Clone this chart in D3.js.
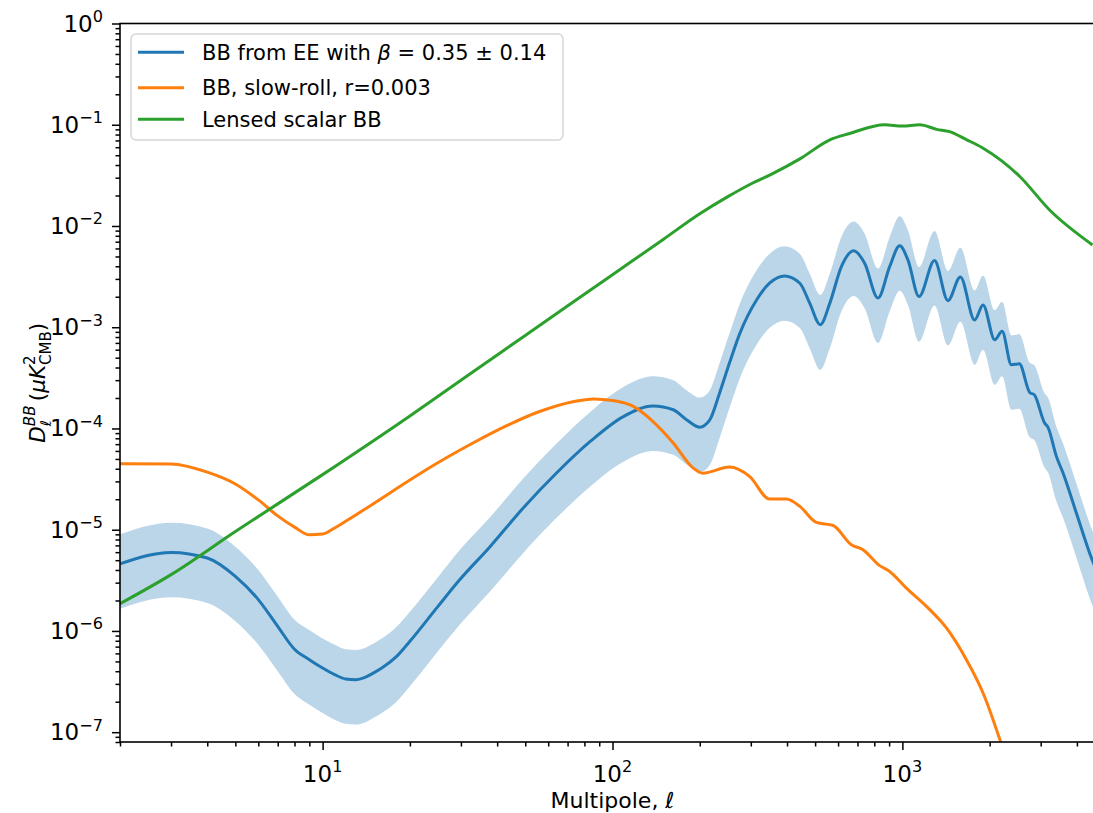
<!DOCTYPE html>
<html>
<head>
<meta charset="utf-8">
<script src="https://cdn.jsdelivr.net/npm/d3@7"></script>
<style>
  body { margin: 0; background: #fff; }
  text { font-family: "DejaVu Sans", sans-serif; fill: #000; }
</style>
</head>
<body>
<svg id="chart" width="1093" height="813"></svg>
<script>
// values (multipole ell, D_ell^BB in uK^2)
var ellBlue = [2, 3, 4, 5, 6, 7, 8, 9, 10, 11, 12, 13, 14, 15, 16, 18, 20, 25, 29.7, 37.8,
  49.2, 64.1, 83.6, 109, 138, 162, 180, 200, 216, 234, 253, 275, 314, 348, 392, 443, 479, 521, 562, 616,
  679, 741, 824, 904, 979, 1045, 1141, 1291, 1436, 1585, 1775, 1898, 2083, 2208, 2377, 2530, 2750, 2852, 3096, 3177,
  3398, 3583, 3983, 4424, 4600];
var bbBlue = [4.6e-6, 5.97e-6, 5.25e-6, 3.46e-6, 2.04e-6, 1.11e-6, 6.6e-7, 5.2e-7, 4.3e-7, 3.7e-7,
  3.36e-7, 3.3e-7, 3.48e-7, 3.85e-7, 4.3e-7, 5.6e-7, 7.9e-7, 1.75e-6, 3.2e-6, 6.8e-6,
  1.64e-5, 3.63e-5, 7.4e-5, 1.31e-4, 1.67e-4, 1.53e-4, 1.22e-4, 1.03e-4, 1.2e-4, 2.23e-4,
  4.4e-4, 8.7e-4, 1.86e-3, 2.72e-3, 3.21e-3, 2.72e-3, 1.73e-3, 1.06e-3, 1.73e-3, 3.97e-3,
  5.68e-3, 4.29e-3, 1.94e-3, 3.97e-3, 6.37e-3, 4.62e-3, 2.01e-3, 4.55e-3, 1.83e-3, 3.13e-3,
  1.18e-3, 1.66e-3, 7.5e-4, 9.1e-4, 4.26e-4, 4.35e-4, 2.27e-4, 2.15e-4, 1.13e-4, 1.03e-4,
  5.3e-5, 3.63e-5, 1.46e-5, 5.9e-6, 4.4e-6];
var bbBlueHi = [9.0e-6, 1.17e-5, 1.03e-5, 6.8e-6, 4.0e-6, 2.18e-6, 1.29e-6, 1.02e-6, 8.4e-7, 7.3e-7,
  6.6e-7, 6.5e-7, 6.8e-7, 7.5e-7, 8.4e-7, 1.10e-6, 1.55e-6, 3.4e-6, 6.3e-6, 1.33e-5,
  3.2e-5, 7.1e-5, 1.45e-4, 2.57e-4, 3.27e-4, 3.0e-4, 2.39e-4, 2.02e-4, 2.35e-4, 4.4e-4,
  8.6e-4, 1.71e-3, 3.65e-3, 5.3e-3, 6.3e-3, 5.3e-3, 3.39e-3, 2.08e-3, 3.39e-3, 7.8e-3,
  1.11e-2, 8.4e-3, 3.8e-3, 7.8e-3, 1.25e-2, 9.1e-3, 3.94e-3, 8.9e-3, 3.59e-3, 6.1e-3,
  2.31e-3, 3.25e-3, 1.47e-3, 1.78e-3, 8.3e-4, 8.5e-4, 4.45e-4, 4.2e-4, 2.21e-4, 2.02e-4,
  1.04e-4, 7.1e-5, 2.86e-5, 1.16e-5, 8.6e-6];
var bbBlueLo = [1.66e-6, 2.15e-6, 1.89e-6, 1.25e-6, 7.3e-7, 4.0e-7, 2.38e-7, 1.87e-7, 1.55e-7, 1.33e-7,
  1.21e-7, 1.19e-7, 1.25e-7, 1.39e-7, 1.55e-7, 2.0e-7, 2.84e-7, 6.3e-7, 1.15e-6, 2.45e-6,
  5.9e-6, 1.31e-5, 2.66e-5, 4.7e-5, 6.0e-5, 5.5e-5, 4.4e-5, 3.7e-5, 4.3e-5, 8.0e-5,
  1.58e-4, 3.13e-4, 6.7e-4, 9.8e-4, 1.16e-3, 9.8e-4, 6.2e-4, 3.8e-4, 6.2e-4, 1.43e-3,
  2.04e-3, 1.54e-3, 7.0e-4, 1.43e-3, 2.29e-3, 1.66e-3, 7.2e-4, 1.64e-3, 6.6e-4, 1.13e-3,
  4.25e-4, 6.0e-4, 2.7e-4, 3.28e-4, 1.53e-4, 1.57e-4, 8.2e-5, 7.7e-5, 4.1e-5, 3.7e-5,
  1.91e-5, 1.31e-5, 5.3e-6, 2.12e-6, 1.58e-6];

var ellSlow = [2, 3, 4, 5, 6, 7, 8, 9, 10, 11, 12, 25.4, 33, 43, 56, 73, 86, 100, 118, 138,
  162, 190, 205, 253, 297, 348, 398, 443, 505, 577, 667, 731, 835, 904, 1032, 1211, 1419, 1663, 1898, 2167, 2300];
var bbSlow = [4.49e-5, 4.45e-5, 3.7e-5, 2.83e-5, 1.97e-5, 1.37e-5, 1.06e-5, 8.9e-6, 9.06e-6, 1.04e-5,
  1.21e-5, 4.72e-5, 7.18e-5, 1.06e-4, 1.47e-4, 1.84e-4, 1.96e-4, 1.89e-4, 1.65e-4, 1.17e-4,
  7.2e-5, 4.06e-5, 3.62e-5, 4.16e-5, 3.36e-5, 2.01e-5, 2.01e-5, 1.70e-5, 1.18e-5, 1.10e-5,
  7.1e-6, 6.35e-6, 4.42e-6, 3.87e-6, 2.65e-6, 1.75e-6, 1.07e-6, 5.2e-7, 2.44e-7, 8.5e-8, 5.0e-8];

var ellLens = [2, 3, 5, 10, 20, 30, 50, 100, 150, 200, 250, 300, 350, 443, 562, 658, 869, 1000, 1148, 1313,
  1455, 1667, 1893, 2536, 3220, 4530];
var bbLens = [1.86e-6, 3.6e-6, 9.6e-6, 3.5e-5, 1.33e-4, 3.0e-4, 8.3e-4, 3.3e-3, 7.4e-3, 1.32e-2,
  1.95e-2, 2.6e-2, 3.2e-2, 4.6e-2, 7.1e-2, 8.2e-2, 1.0e-1, 9.7e-2, 1.0e-1, 9.0e-2,
  8.55e-2, 7.1e-2, 5.9e-2, 3.1e-2, 1.44e-2, 6.5e-3];

var xMajor = [10, 100, 1000];
var yMajor = [1e-7, 1e-6, 1e-5, 1e-4, 1e-3, 1e-2, 1e-1, 1];
var colors = ["#1f77b4", "#ff7f0e", "#2ca02c"];

var svg = d3.select("#chart");

var padL = 120, padR = 1105, padT = 23.5, padB = 742;
var x = d3.scaleLog().domain([2, 5000]).range([padL, padR]);
var y = d3.scaleLog().domain([8e-8, 1]).range([padB, padT]);

var tickFs = 23, labelFs = 22, legendFs = 21;

svg.append("clipPath").attr("id", "clip")
  .append("rect").attr("x", padL).attr("y", padT)
  .attr("width", padR - padL).attr("height", padB - padT);

var plot = svg.append("g").attr("clip-path", "url(#clip)");

var blueRows = ellBlue.map(function(l, i) {
  return { ell: l, v: bbBlue[i], lo: bbBlueLo[i], hi: bbBlueHi[i] };
});
function rows(ells, vals) {
  return ells.map(function(l, i) { return { ell: l, v: vals[i] }; });
}

var area = d3.area()
  .x(function(d) { return x(d.ell); })
  .y0(function(d) { return y(d.lo); })
  .y1(function(d) { return y(d.hi); })
  .curve(d3.curveMonotoneX);

var line = d3.line()
  .x(function(d) { return x(d.ell); })
  .y(function(d) { return y(d.v); })
  .curve(d3.curveMonotoneX);

plot.append("path").datum(blueRows)
  .attr("d", area).attr("fill", colors[0]).attr("fill-opacity", 0.3);

plot.append("path").datum(blueRows)
  .attr("d", line).attr("fill", "none").attr("stroke", colors[0]).attr("stroke-width", 3);
plot.append("path").datum(rows(ellSlow, bbSlow))
  .attr("d", line).attr("fill", "none").attr("stroke", colors[1]).attr("stroke-width", 3);
plot.append("path").datum(rows(ellLens, bbLens))
  .attr("d", line).attr("fill", "none").attr("stroke", colors[2]).attr("stroke-width", 3);

// minor ticks of the log axes
var xMinor = [], yMinor = [];
[1, 10, 100, 1000].forEach(function(p) {
  for (var m = 2; m <= 9; m++) if (p * m >= 2 && p * m <= 5000) xMinor.push(p * m);
});
[1e-8, 1e-7, 1e-6, 1e-5, 1e-4, 1e-3, 1e-2, 1e-1].forEach(function(p) {
  for (var m = 2; m <= 9; m++) if (p * m >= 8e-8 && p * m <= 1) yMinor.push(p * m);
});

function styleAxis(g) {
  g.select(".domain").remove();
  g.selectAll("line").attr("stroke", "#000").attr("stroke-width", 1.5);
}

svg.append("g").attr("transform", "translate(0," + padB + ")")
  .call(d3.axisBottom(x).tickValues(xMajor).tickSize(8).tickFormat(""))
  .call(styleAxis);
svg.append("g").attr("transform", "translate(0," + padB + ")")
  .call(d3.axisBottom(x).tickValues(xMinor).tickSize(4.5).tickFormat(""))
  .call(styleAxis);
svg.append("g").attr("transform", "translate(" + padL + ",0)")
  .call(d3.axisLeft(y).tickValues(yMajor).tickSize(8).tickFormat(""))
  .call(styleAxis);
svg.append("g").attr("transform", "translate(" + padL + ",0)")
  .call(d3.axisLeft(y).tickValues(yMinor).tickSize(4.5).tickFormat(""))
  .call(styleAxis);

// spines
svg.append("rect").attr("x", padL).attr("y", padT)
  .attr("width", padR - padL).attr("height", padB - padT)
  .attr("fill", "none").attr("stroke", "#000").attr("stroke-width", 1.6);

function powLabel(sel, v) {
  var e = Math.round(Math.log10(v));
  sel.append("tspan").text("10");
  sel.append("tspan").attr("dy", -0.42 * tickFs).style("font-size", (tickFs * 0.7) + "px")
    .text(String(e).replace("-", "\u2212"));
}

xMajor.forEach(function(v) {
  svg.append("text").attr("x", x(v)).attr("y", 782)
    .attr("text-anchor", "middle").style("font-size", tickFs + "px")
    .call(powLabel, v);
});
yMajor.forEach(function(v) {
  svg.append("text").attr("x", 103).attr("y", y(v) + 8)
    .attr("text-anchor", "end").style("font-size", tickFs + "px")
    .call(powLabel, v);
});

// x label
svg.append("text").attr("x", (padL + padR) / 2).attr("y", 808)
  .attr("text-anchor", "middle").style("font-size", labelFs + "px")
  .text("Multipole, \u2113");

// y label, laid out piece by piece for the sub/superscripts
function mathRow(g, runs, fs) {
  var xpos = 0;
  runs.forEach(function(r) {
    if (r.stack) {
      var w = 0;
      r.stack.forEach(function(s) {
        var t = g.append("text").attr("x", xpos).attr("y", s.dy * fs)
          .style("font-size", (fs * 0.7) + "px")
          .style("font-style", s.it ? "italic" : null).text(s.t);
        w = Math.max(w, t.node().getComputedTextLength());
      });
      xpos += w;
    } else {
      var t = g.append("text").attr("x", xpos).attr("y", 0)
        .style("font-size", fs + "px")
        .style("font-style", r.it ? "italic" : null).text(r.t);
      xpos += t.node().getComputedTextLength();
    }
  });
  return xpos;
}

var yl = svg.append("g");
var ylInner = yl.append("g");
var ylw = mathRow(ylInner, [
  { t: "D", it: true },
  { stack: [{ t: "\u2113", it: true, dy: 0.3 }, { t: "BB", it: true, dy: -0.45 }] },
  { t: "\u2009(" },
  { t: "\u03bcK", it: true },
  { stack: [{ t: "2", dy: -0.45 }, { t: "CMB", dy: 0.3 }] },
  { t: ")" }
], 21.5);
yl.attr("transform", "translate(45," + ((padT + padB) / 2) + ") rotate(-90)");
ylInner.attr("transform", "translate(" + (-ylw / 2) + ",0)");

// legend
var legend = svg.append("g");
legend.append("rect").attr("x", 131).attr("y", 34).attr("width", 432).attr("height", 106)
  .attr("rx", 5).attr("fill", "#fff").attr("fill-opacity", 0.8)
  .attr("stroke", "#d6d6d6").attr("stroke-width", 1.5);

var legendRows = [52.3, 87.7, 119.3];
legendRows.forEach(function(ly, i) {
  legend.append("line").attr("x1", 138).attr("x2", 184).attr("y1", ly).attr("y2", ly)
    .attr("stroke", colors[i]).attr("stroke-width", 3);
});

var t0 = legend.append("text").attr("x", 202).attr("y", legendRows[0] + 7.5).style("font-size", legendFs + "px");
t0.append("tspan").text("BB from EE with ");
t0.append("tspan").style("font-style", "italic").text("\u03b2");
t0.append("tspan").text(" = 0.35 \u00b1 0.14");
legend.append("text").attr("x", 202).attr("y", legendRows[1] + 7.5).style("font-size", legendFs + "px")
  .text("BB, slow-roll, r=0.003");
legend.append("text").attr("x", 202).attr("y", legendRows[2] + 7.5).style("font-size", legendFs + "px")
  .text("Lensed scalar BB");
</script>
</body>
</html>
